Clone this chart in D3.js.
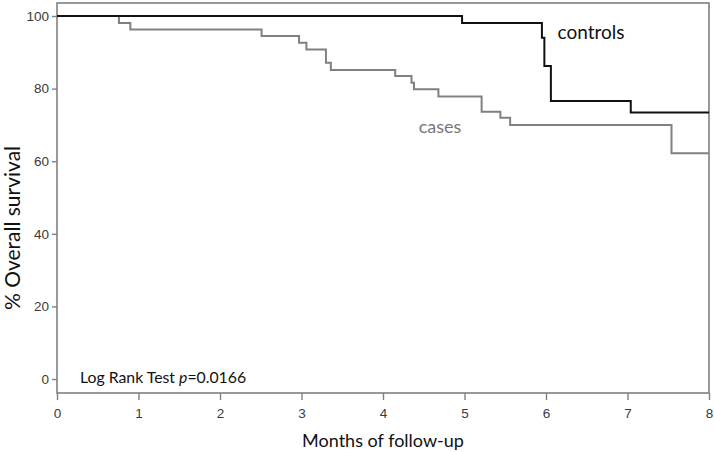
<!DOCTYPE html>
<html><head><meta charset="utf-8">
<script src="https://cdn.jsdelivr.net/npm/d3@7"></script>
<style>body{margin:0;background:#fff}</style>
</head><body>
<svg id="c" width="714" height="452"></svg>
<script>
// Step-curve data: [month, % survival] at each change point
const controlsTimes = [0, 4.97, 5.95, 5.98, 6.06, 7.04, 8];
const controlsSurv  = [100, 98.1, 94.0, 86.2, 76.6, 73.4, 73.4];
const casesTimes = [0, 0.76, 0.90, 2.51, 2.97, 3.06, 3.30, 3.36, 4.15, 4.35, 4.38, 4.68, 5.21, 5.44, 5.56, 7.54, 8];
const casesSurv  = [100, 98.1, 96.3, 94.5, 92.6, 90.8, 87.1, 85.1, 83.5, 81.6, 79.8, 77.8, 73.6, 72.0, 70.0, 62.2, 62.2];
const xTicks = [0, 1, 2, 3, 4, 5, 6, 7, 8];
const yTicks = [0, 20, 40, 60, 80, 100];

const svg = d3.select("#c");
const L = 57, R = 709, T = 3, B = 393;
const x = d3.scaleLinear().domain([0, 8]).range([L, R]);
const y = d3.scaleLinear().domain([0, 100]).range([379, 16]);

// frame
svg.append("rect").attr("x", L).attr("y", T).attr("width", R - L).attr("height", B - T)
  .attr("fill", "none").attr("stroke", "#808080").attr("stroke-width", 1.6);

// y axis
const yAxis = svg.append("g").attr("transform", `translate(${L},0)`)
  .call(d3.axisLeft(y).tickValues(yTicks).tickSize(5).tickPadding(3));
yAxis.select(".domain").remove();
yAxis.selectAll("line").attr("stroke", "#808080").attr("stroke-width", 1.4);
yAxis.selectAll("text").attr("font-family", "Liberation Sans, Arial, sans-serif")
  .attr("font-size", 13.5).attr("fill", "#3a3a3a");

// x axis
const xAxis = svg.append("g").attr("transform", `translate(0,${B})`)
  .call(d3.axisBottom(x).tickValues(xTicks).tickSize(7).tickPadding(8));
xAxis.select(".domain").remove();
xAxis.selectAll("line").attr("stroke", "#808080").attr("stroke-width", 1.4);
xAxis.selectAll("text").attr("font-family", "Liberation Sans, Arial, sans-serif")
  .attr("font-size", 13.5).attr("fill", "#3a3a3a");

const line = d3.line().x(d => x(d[0])).y(d => y(d[1])).curve(d3.curveStepAfter);

svg.append("path").datum(casesTimes.map((t, i) => [t, casesSurv[i]]))
  .attr("d", line).attr("fill", "none").attr("stroke", "#808080").attr("stroke-width", 2);
svg.append("path").datum(controlsTimes.map((t, i) => [t, controlsSurv[i]]))
  .attr("d", line).attr("fill", "none").attr("stroke", "#111").attr("stroke-width", 2);

const tf = "Lato, 'Open Sans', sans-serif";
svg.append("text").attr("x", 591).attr("y", 39).attr("text-anchor", "middle")
  .attr("font-family", tf).attr("font-size", 19).attr("fill", "#111").text("controls");
svg.append("text").attr("x", 440).attr("y", 133).attr("text-anchor", "middle")
  .attr("font-family", tf).attr("font-size", 18).attr("fill", "#777").text("cases");

const lr = svg.append("text").attr("x", 80).attr("y", 383)
  .attr("font-family", tf).attr("font-size", 15.8).attr("fill", "#111");
lr.append("tspan").text("Log Rank Test ");
lr.append("tspan").attr("font-style", "italic").text("p");
lr.append("tspan").text("=0.0166");

svg.append("text").attr("x", 383).attr("y", 447).attr("text-anchor", "middle")
  .attr("font-family", tf).attr("font-size", 18).attr("fill", "#111").text("Months of follow-up");
svg.append("text").attr("transform", "translate(20,228) rotate(-90)").attr("text-anchor", "middle")
  .attr("font-family", tf).attr("font-size", 21).attr("fill", "#111").text("% Overall survival");
</script>
</body></html>
